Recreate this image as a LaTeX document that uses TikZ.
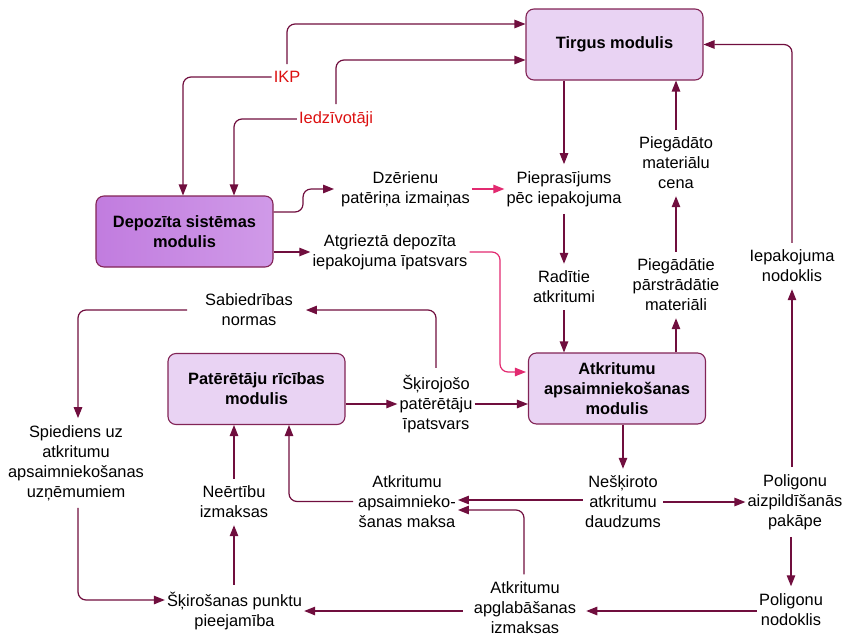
\documentclass[tikz,border=0pt]{standalone}
\usepackage{fontspec}
\setmainfont{Liberation Sans}
\usetikzlibrary{arrows.meta}
\definecolor{lc}{RGB}{112,14,62}
\definecolor{pk}{RGB}{226,42,112}
\definecolor{rt}{RGB}{220,16,16}
\definecolor{bd}{RGB}{130,36,86}
\definecolor{bf}{RGB}{233,211,243}
\definecolor{dfa}{RGB}{193,124,223}
\definecolor{dfb}{RGB}{208,154,232}
\newcommand{\mydiagfont}{\fontsize{16.4pt}{20pt}\selectfont}
\begin{document}
\begin{tikzpicture}[x=1pt,y=-1pt,
  modbox/.style={draw=bd, line width=1.1pt, rounded corners=8pt, fill=bf,
    minimum width=177pt, minimum height=71pt, align=center, inner sep=2pt,
    font=\mydiagfont\bfseries},
  lbl/.style={align=center, inner xsep=2pt, inner ysep=7pt, font=\mydiagfont},
  redlbl/.style={lbl, text=rt},
  arr/.style={draw=lc, line width=1.2pt, rounded corners=8pt,
    -{Triangle[length=11pt,width=8.5pt]}},
  parr/.style={arr, draw=pk}]
\useasboundingbox (0,0) rectangle (844,638);

% boxes
\node[modbox] (tirgus) at (614.5,44.5) {Tirgus modulis};
\node[modbox, left color=dfa, right color=dfb] (depo) at (184.5,231.5) {Depozīta sistēmas\\modulis};
\node[modbox] (pat) at (256.5,389) {Patērētāju rīcības\\modulis};
\node[modbox] (atk) at (617,388.5) {Atkritumu\\apsaimniekošanas\\modulis};

% labels
\node[redlbl] (ikp) at (287,77) {IKP};
\node[redlbl] (iedz) at (336,119) {Iedzīvotāji};
\node[lbl] (dzer) at (405.5,189) {Dzērienu\\patēriņa izmaiņas};
\node[lbl] (piep) at (564,189) {Pieprasījums\\pēc iepakojuma};
\node[lbl] (cena) at (676,163) {Piegādāto\\materiālu\\cena};
\node[lbl] (atgr) at (390,252) {Atgrieztā depozīta\\iepakojuma īpatsvars};
\node[lbl] (radit) at (564,287) {Radītie\\atkritumi};
\node[lbl] (piegm) at (676,285) {Piegādātie\\pārstrādātie\\materiāli};
\node[lbl] (iepak) at (792,266) {Iepakojuma\\nodoklis};
\node[lbl] (sabied) at (249,310) {Sabiedrības\\normas};
\node[lbl] (skir) at (436,404) {Šķirojošo\\patērētāju\\īpatsvars};
\node[lbl] (spied) at (76,463) {Spiediens uz\\atkritumu\\apsaimniekošanas\\uzņēmumiem};
\node[lbl] (neert) at (234,502) {Neērtību\\izmaksas};
\node[lbl] (maksa) at (407,501.5) {Atkritumu\\apsaimnieko-\\šanas maksa};
\node[lbl] (neskir) at (623,502) {Nešķiroto\\atkritumu\\daudzums};
\node[lbl] (poligaiz) at (795,502) {Poligonu\\aizpildīšanās\\pakāpe};
\node[lbl] (skirpunkt) at (234.5,611) {Šķirošanas punktu\\pieejamība};
\node[lbl, inner ysep=1pt] (apglab) at (525,607.5) {Atkritumu\\apglabāšanas\\izmaksas};
\node[lbl] (polnod) at (791,609.5) {Poligonu\\nodoklis};
\coordinate (agtop) at ([yshift=6pt]apglab.north);
\coordinate (agright) at ([xshift=8pt]apglab.east);
\coordinate (agleft) at ([xshift=-9pt]apglab.west);

% connectors
\draw[arr] (ikp.north) |- (tirgus.west |- 0,24);
\draw[arr] (ikp.west) -| ([xshift=-1.5pt]depo.north);
\draw[arr] (iedz.north) |- (tirgus.west |- 0,60);
\draw[arr] (iedz.west) -| ([xshift=49.5pt]depo.north);
\draw[arr] ([yshift=19.5pt]depo.east) -| ([xshift=-36pt]dzer.west) -- ([xshift=-5pt]dzer.west);
\draw[arr] (depo.east |- atgr.west) -- (atgr.west);
\draw[parr] (dzer.east) -- (piep.west);
\draw[parr] (atgr.east) -| (500,372) -- ([xshift=-2pt]atk.west |- 0,372);
\draw[arr] (tirgus.south -| piep.north) -- (piep.north);
\draw[arr] (piep.south) -- (radit.north);
\draw[arr] (radit.south) -- (radit.south |- atk.north);
\draw[arr] (atk.north -| piegm.south) -- (piegm.south);
\draw[arr] (piegm.north) -- (cena.south);
\draw[arr] (cena.north) -- (cena.north |- tirgus.south);
\draw[arr] (iepak.north) |- (tirgus.east);
\draw[arr] (poligaiz.north -| iepak.south) -- (iepak.south);
\draw[arr] (poligaiz.south -| polnod.north) -- (polnod.north);
\draw[arr] (atk.south -| neskir.north) -- (neskir.north);
\draw[arr] (neskir.east) -- (poligaiz.west);
\draw[arr] (neskir.west |- 0,500) -- (maksa.east |- 0,500);
\draw[arr] (agtop -| 524,0) |- (maksa.east |- 0,510);
\draw[arr] (polnod.west |- 0,611) -- (agright |- 0,611);
\draw[arr] (agleft |- 0,611) -- (skirpunkt.east);
\draw[arr] ([xshift=-3pt]maksa.west) -| ([xshift=32.5pt]pat.south);
\draw[arr] (neert.north) -- (neert.north |- pat.south);
\draw[arr] (neert.south |- skirpunkt.north) -- (neert.south);
\draw[arr] ([xshift=2pt]spied.south) |- ([yshift=11pt]skirpunkt.west);
\draw[arr] ([xshift=-16pt]sabied.west) -| ([xshift=2pt]spied.north);
\draw[arr] (skir.north) |- ([xshift=11pt]sabied.east);
\draw[arr] (skir.west -| pat.east) -- (skir.west);
\draw[arr] (skir.east) -- (skir.east -| atk.west);
\end{tikzpicture}
\end{document}
